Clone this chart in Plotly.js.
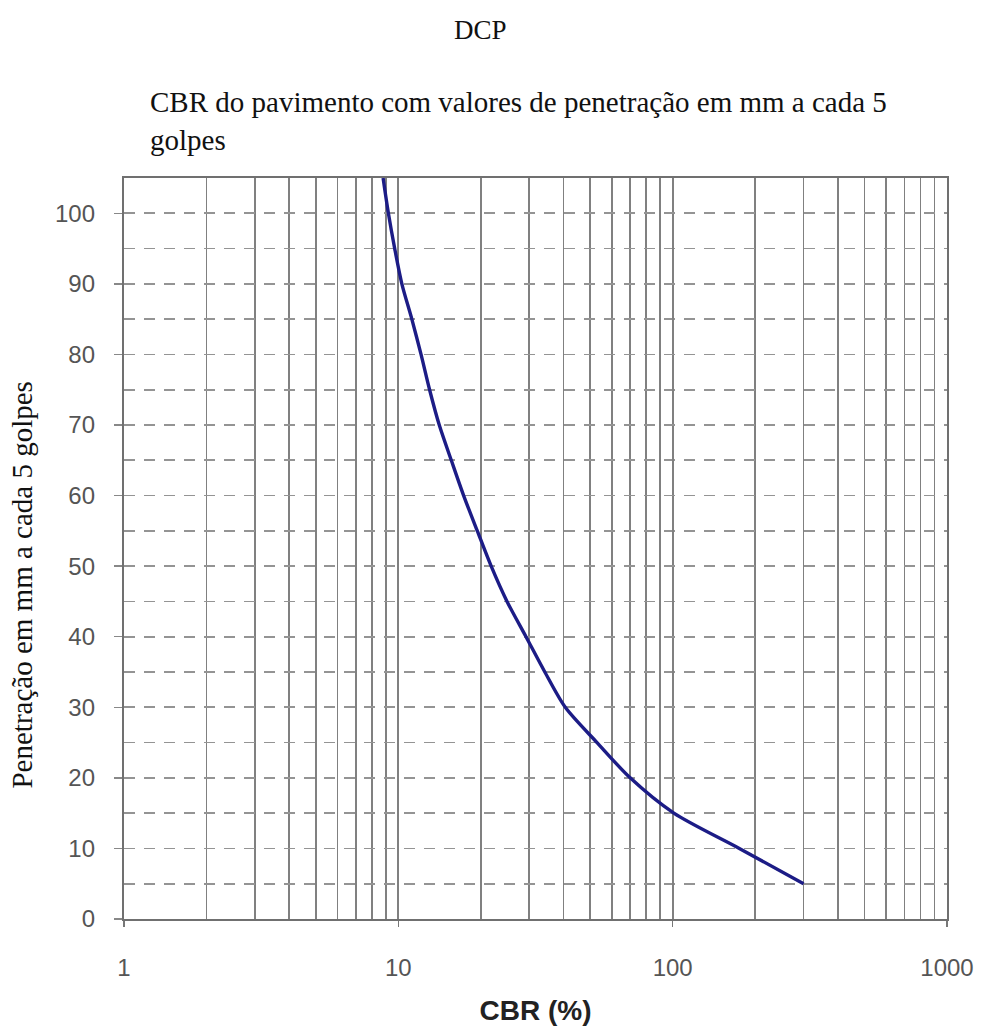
<!DOCTYPE html>
<html>
<head>
<meta charset="utf-8">
<script src="https://cdn.plot.ly/plotly-3.0.1.min.js"></script>
<style>html,body{margin:0;padding:0;background:#fff;}#chart{width:984px;height:1034px;}</style>
</head>
<body>
<div id="chart"></div>
<script>
// Data
const penetration = [105, 100, 95, 90, 85, 80, 75, 70, 65, 60, 55, 50, 45, 40, 35, 30, 25, 20, 15, 10, 5];
const cbr = [8.8, 9.2, 9.7, 10.3, 11.2, 12.1, 13.0, 14.1, 15.6, 17.3, 19.4, 21.8, 24.9, 29.2, 34.2, 40.6, 53, 70, 101, 175, 300];
const xTickVals = [1, 10, 100, 1000];
const xTickText = ['1', '10', '100', '1000'];
const yTickVals = [0, 10, 20, 30, 40, 50, 60, 70, 80, 90, 100];

const serif = 'Liberation Serif, Times New Roman, serif';
const sans = 'Liberation Sans, Arial, sans-serif';

const trace = {
  x: cbr, y: penetration, type: 'scatter', mode: 'lines',
  line: {color: '#1c1c86', width: 3.4, shape: 'spline', smoothing: 0.8},
  hoverinfo: 'x+y'
};

const layout = {
  width: 984, height: 1034,
  margin: {l: 124, r: 37, t: 178, b: 115},
  paper_bgcolor: '#ffffff', plot_bgcolor: '#ffffff',
  showlegend: false,
  title: {text: 'DCP', x: 0.488, xref: 'container', xanchor: 'center',
          y: 0.971, yref: 'container', yanchor: 'middle',
          font: {family: serif, size: 27, color: '#111'}},
  xaxis: {
    type: 'log', range: [0, 3],
    tickvals: xTickVals, ticktext: xTickText,
    ticks: 'outside', ticklen: 6, tickcolor: '#777', tickwidth: 1.5,
    ticklabelstandoff: 20,
    tickfont: {family: sans, size: 24, color: '#555'},
    showgrid: true, gridcolor: '#808080', gridwidth: 1.7,
    minor: {dtick: 'D1', showgrid: true, gridcolor: '#808080', gridwidth: 1.7, ticks: ''},
    showline: true, linecolor: '#707070', linewidth: 2.2, mirror: true,
    zeroline: false,
    title: {text: 'CBR (%)', standoff: 20,
            font: {family: sans, size: 28, color: '#222', weight: 'bold'}}
  },
  yaxis: {
    range: [0, 105],
    tickvals: yTickVals,
    ticks: 'outside', ticklen: 8, tickcolor: '#888', tickwidth: 1.5,
    ticklabelstandoff: 14,
    tickfont: {family: sans, size: 24, color: '#555'},
    showgrid: true, gridcolor: '#949494', gridwidth: 1.7, griddash: '11px,9px',
    minor: {dtick: 5, showgrid: true, gridcolor: '#949494', gridwidth: 1.7, griddash: '11px,9px', ticks: ''},
    showline: true, linecolor: '#707070', linewidth: 2.2, mirror: true,
    zeroline: false
  },
  annotations: [
    {text: 'CBR do pavimento com valores de penetração em mm a cada 5<br>golpes',
     xref: 'paper', yref: 'paper', x: 0.029, y: 1.0, xanchor: 'left', yanchor: 'middle', yshift: 57,
     align: 'left', showarrow: false, font: {family: serif, size: 29, color: '#111'}},
    {text: 'Penetração em mm a cada 5 golpes',
     xref: 'paper', yref: 'paper', x: 0, y: 0.45, xanchor: 'center', yanchor: 'middle', xshift: -102,
     textangle: -90, showarrow: false,
     font: {family: serif, size: 29, color: '#111'}}
  ]
};

Plotly.newPlot('chart', [trace], layout, {displayModeBar: false, staticPlot: true});
</script>
</body>
</html>
